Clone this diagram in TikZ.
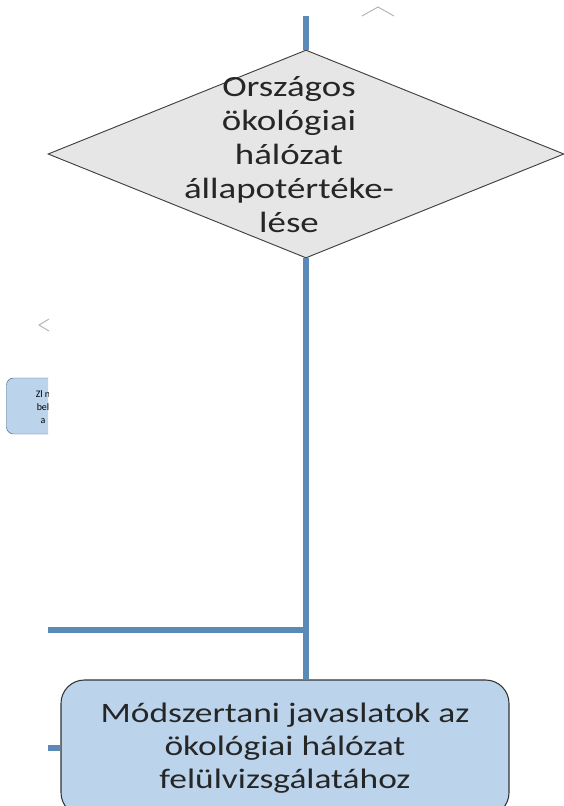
\documentclass[tikz,border=0pt]{standalone}
\usepackage{fontspec}
\setmainfont{Carlito}
\newfontfamily\wideface[FakeStretch=1.26]{Carlito}
\usetikzlibrary{shapes.geometric,positioning}
\definecolor{linkblue}{RGB}{92,138,184}
\definecolor{boxblue}{RGB}{187,212,236}
\definecolor{diagray}{RGB}{230,230,230}
\tikzset{
	link/.style={draw=linkblue,line width=4.5pt},
	rbox/.style={draw=black!80,fill=boxblue,rounded corners=20pt,line width=0.9pt,align=center},
	dbox/.style={diamond,draw=black!75,fill=diagray,line width=0.8pt,inner sep=0pt},
	bigtext/.style={font=\wideface\fontsize{24}{28}\selectfont,text=black!85,align=center},
}
\begin{document}
\begin{tikzpicture}[x=0.03cm,y=-0.03cm]
	\useasboundingbox (0,0) rectangle (564,806);
	\clip (0,0) rectangle (564,806);
	
	\node[dbox,minimum width=15.48cm,minimum height=6.24cm] (dia) at (306,154) {};
	\node[bigtext,font=\wideface\fontsize{25}{29}\selectfont] (diatext) at (289,155) {Országos\\ökológiai\\hálózat\\állapotértéke-\\lése};
	\node[rbox,bigtext,minimum width=13.44cm,minimum height=4.08cm] (res) at (285,748)
		{Módszertani javaslatok az\\ökológiai hálózat\\felülvizsgálatához};
	
	% cut off pieces on the left
	\begin{scope}
		\clip (0,0) rectangle (48,806);
		\node[draw=linkblue!70!black,fill=boxblue,rounded corners=6pt,minimum width=2.97cm,minimum height=1.68cm] (zl) at (56,406) {};
		\node[font=\fontsize{8.5}{11}\selectfont,align=center] (zltext) at (43,407) {Zl n\\bel\\a};
	\end{scope}
	\draw[black!30,line width=0.8pt] (49,319) -- (39,325) -- (49,331);
	\draw[black!30,line width=0.8pt] (362,16) -- (378,7) -- (394,16);
	
	\coordinate (top) at (306,16);
	\coordinate (jn) at (dia.south |- 0,630);
	\coordinate (lft) at (48,630);
	\coordinate (lft2) at (48,748);
	\draw[link] (top) -- (dia.north);
	\draw[link] (dia.south) -- (dia.south |- res.north);
	\draw[link] (lft) -- (jn);
	\draw[link] (lft2) -- (res.west);
\end{tikzpicture}
\end{document}
